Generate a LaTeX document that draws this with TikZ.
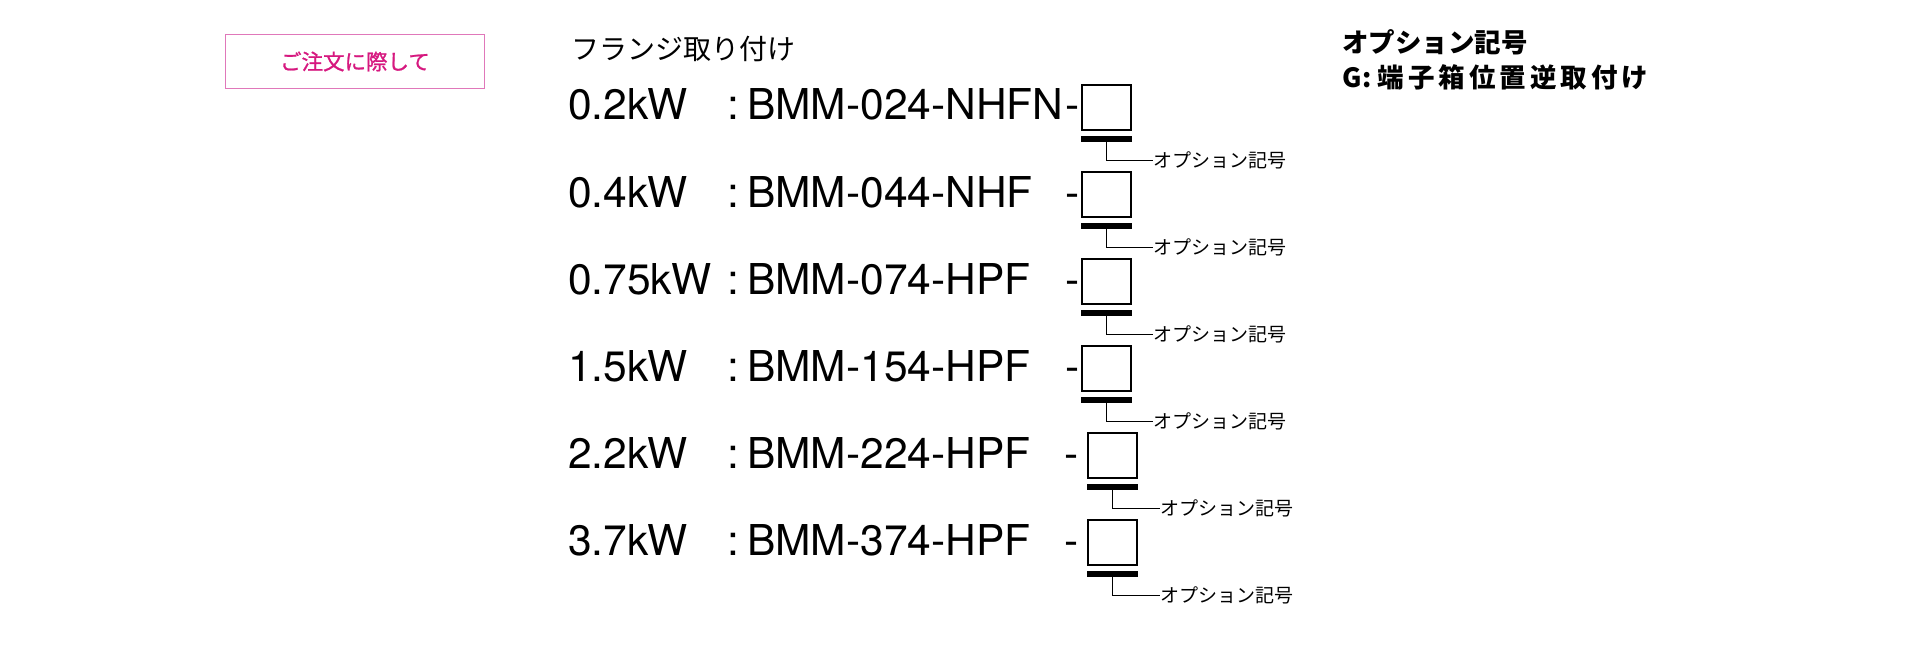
\documentclass[tikz,border=0pt]{standalone}
\usepackage{fontspec}
\setmainfont{TeX Gyre Heros}
\newfontfamily\jpfont{Noto Sans CJK JP}
\newfontfamily\jpmedium{Noto Sans CJK JP}[FakeBold=1]
\usetikzlibrary{positioning, calc}

\definecolor{noticepink}{RGB}{214,24,127}
\definecolor{noticeframe}{RGB}{224,120,186}

\begin{document}
\begin{tikzpicture}[
    x=1pt, y=-1pt,
    % --- Global styles ---
    every node/.style={inner sep=0pt},
    % --- Text styles ---
    heading/.style={anchor=base west,
      font=\jpfont\fontsize{28pt}{30pt}\selectfont},
    kw/.style={anchor=base west,
      font=\fontsize{42.5pt}{44pt}\selectfont},
    legend/.style={anchor=base west,
      font=\jpfont\bfseries\fontsize{26.5pt}{28pt}\selectfont},
    optlabel/.style={anchor=west, inner sep=1pt,
      font=\jpfont\fontsize{19pt}{20pt}\selectfont},
    % --- Boxes ---
    notice/.style={draw=noticeframe, line width=1.2pt,
      minimum width=259pt, minimum height=54pt, text=noticepink,
      font=\jpmedium\fontsize{21.5pt}{23pt}\selectfont},
    slot/.style={draw, line width=1.6pt,
      minimum width=49.5pt, minimum height=45.5pt},
    bar/.style={fill=black, minimum width=51pt, minimum height=6pt},
    % --- Connector ---
    lead/.style={line width=1.1pt},
  ]

  \useasboundingbox (0,0) rectangle (1920,650);

  %% ---- Header ----

  % Notice box
  \node[notice] (notice) at (355,61.5) {ご注文に際して};

  % Flange mounting
  \node[heading] (flange) at (571,60) {フランジ取り付け};

  % Option legend
  \node[legend] (legendtitle) at (1342,53) {オプション記号};
  \node[legend] (legendg) at (1342,88)
    {G\kern1pt:\kern6pt 端\kern4pt 子\kern4pt 箱\kern4pt 位\kern4pt
     置\kern4pt 逆\kern4pt 取\kern4pt 付\kern4pt け};

  %% ---- Model rows ----

  % 0.2kW
  \node[kw] (kw1) at (568,120) {0.2kW};
  \node[kw] (colon1) at (727.5,120) {:};
  \node[kw] (model1) at (747,120) {BMM-024-NHFN};
  \node[kw] (dash1) at (1065,120) {-};
  \node[slot] (slot1) at (1106.5,107.5) {};
  \node[bar, below=5pt of slot1] (bar1) {};
  \node[optlabel] (opt1) at ($(bar1.south)+(46,18)$) {オプション記号};

  % 0.4kW
  \node[kw] (kw2) at (568,207) {0.4kW};
  \node[kw] (colon2) at (727.5,207) {:};
  \node[kw] (model2) at (747,207) {BMM-044-NHF};
  \node[kw] (dash2) at (1065,207) {-};
  \node[slot] (slot2) at (1106.5,194.5) {};
  \node[bar, below=5pt of slot2] (bar2) {};
  \node[optlabel] (opt2) at ($(bar2.south)+(46,18)$) {オプション記号};

  % 0.75kW
  \node[kw] (kw3) at (568,294) {0.75kW};
  \node[kw] (colon3) at (727.5,294) {:};
  \node[kw] (model3) at (747,294) {BMM-074-HPF};
  \node[kw] (dash3) at (1065,294) {-};
  \node[slot] (slot3) at (1106.5,281.5) {};
  \node[bar, below=5pt of slot3] (bar3) {};
  \node[optlabel] (opt3) at ($(bar3.south)+(46,18)$) {オプション記号};

  % 1.5kW
  \node[kw] (kw4) at (568,381) {1.5kW};
  \node[kw] (colon4) at (727.5,381) {:};
  \node[kw] (model4) at (747,381) {BMM-154-HPF};
  \node[kw] (dash4) at (1065,381) {-};
  \node[slot] (slot4) at (1106.5,368.5) {};
  \node[bar, below=5pt of slot4] (bar4) {};
  \node[optlabel] (opt4) at ($(bar4.south)+(46,18)$) {オプション記号};

  % 2.2kW
  \node[kw] (kw5) at (568,468) {2.2kW};
  \node[kw] (colon5) at (727.5,468) {:};
  \node[kw] (model5) at (747,468) {BMM-224-HPF};
  \node[kw] (dash5) at (1064,468) {-};
  \node[slot] (slot5) at (1112.5,455.5) {};
  \node[bar, below=5pt of slot5] (bar5) {};
  \node[optlabel] (opt5) at ($(bar5.south)+(47,18)$) {オプション記号};

  % 3.7kW
  \node[kw] (kw6) at (568,555) {3.7kW};
  \node[kw] (colon6) at (727.5,555) {:};
  \node[kw] (model6) at (747,555) {BMM-374-HPF};
  \node[kw] (dash6) at (1064,555) {-};
  \node[slot] (slot6) at (1112.5,542.5) {};
  \node[bar, below=5pt of slot6] (bar6) {};
  \node[optlabel] (opt6) at ($(bar6.south)+(47,18)$) {オプション記号};

  %% ---- Leaders ----

  \draw[lead] (bar1.south) |- (opt1.west);
  \draw[lead] (bar2.south) |- (opt2.west);
  \draw[lead] (bar3.south) |- (opt3.west);
  \draw[lead] (bar4.south) |- (opt4.west);
  \draw[lead] (bar5.south) |- (opt5.west);
  \draw[lead] (bar6.south) |- (opt6.west);

\end{tikzpicture}
\end{document}
